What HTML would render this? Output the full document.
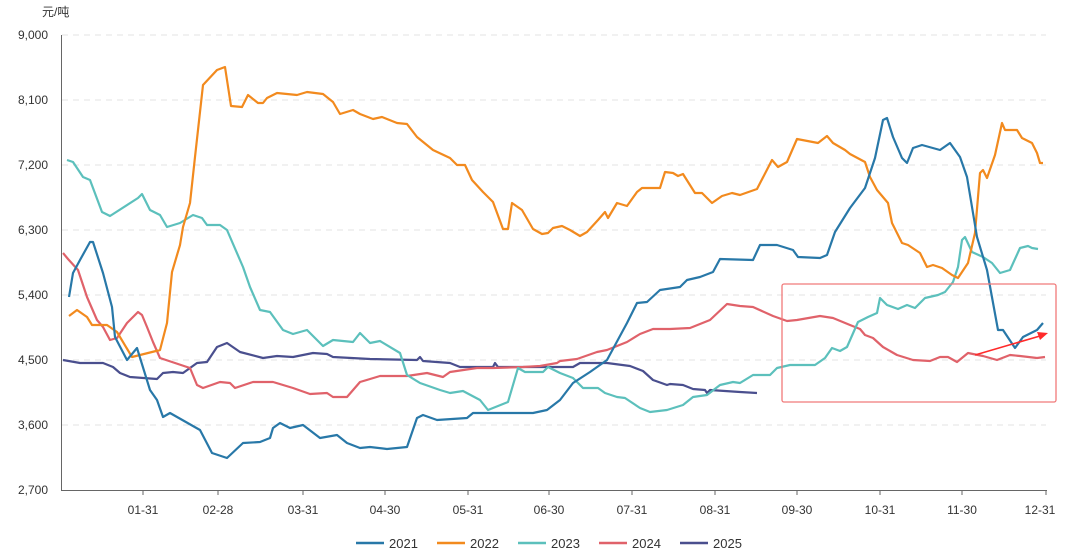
<!DOCTYPE html>
<html><head><meta charset="utf-8"><style>
html,body{margin:0;padding:0;background:#fff;}
svg{display:block;font-family:"Liberation Sans","Noto Sans CJK SC",sans-serif;}
</style></head><body>
<svg width="1080" height="558" viewBox="0 0 1080 558">
<g stroke="#e3e3e3" stroke-dasharray="6,5" stroke-width="1">
<line x1="62" y1="35" x2="1046" y2="35"/><line x1="62" y1="100" x2="1046" y2="100"/><line x1="62" y1="165" x2="1046" y2="165"/><line x1="62" y1="230" x2="1046" y2="230"/><line x1="62" y1="295" x2="1046" y2="295"/><line x1="62" y1="360" x2="1046" y2="360"/><line x1="62" y1="425" x2="1046" y2="425"/>
</g>
<g font-size="12" fill="#333" text-anchor="end">
<text x="48" y="39">9,000</text><text x="48" y="104">8,100</text><text x="48" y="169">7,200</text><text x="48" y="234">6,300</text><text x="48" y="299">5,400</text><text x="48" y="364">4,500</text><text x="48" y="429">3,600</text><text x="48" y="494">2,700</text>
</g>
<text x="42" y="16" font-size="12" fill="#333">元/吨</text>
<line x1="61.5" y1="35" x2="61.5" y2="490" stroke="#666"/>
<line x1="61" y1="490.5" x2="1047" y2="490.5" stroke="#666"/>
<g stroke="#666">
<line x1="143" y1="490" x2="143" y2="495"/><line x1="218" y1="490" x2="218" y2="495"/><line x1="303" y1="490" x2="303" y2="495"/><line x1="385" y1="490" x2="385" y2="495"/><line x1="468" y1="490" x2="468" y2="495"/><line x1="549" y1="490" x2="549" y2="495"/><line x1="632" y1="490" x2="632" y2="495"/><line x1="715" y1="490" x2="715" y2="495"/><line x1="797" y1="490" x2="797" y2="495"/><line x1="880" y1="490" x2="880" y2="495"/><line x1="962" y1="490" x2="962" y2="495"/><line x1="1046" y1="490" x2="1046" y2="495"/>
</g>
<g font-size="12" fill="#333" text-anchor="middle">
<text x="143" y="514">01-31</text><text x="218" y="514">02-28</text><text x="303" y="514">03-31</text><text x="385" y="514">04-30</text><text x="468" y="514">05-31</text><text x="549" y="514">06-30</text><text x="632" y="514">07-31</text><text x="715" y="514">08-31</text><text x="797" y="514">09-30</text><text x="880" y="514">10-31</text><text x="962" y="514">11-30</text><text x="1040" y="514">12-31</text>
</g>
<g fill="none" stroke-width="2.2" stroke-linejoin="round">
<polyline stroke="#4a4f8e" points="63,360 80,363 103,363 113,367 120,373 130,377 157,379 163,373 173,372 183,373 197,363 207,362 217,347 227,343 240,352 263,358 277,356 293,357 313,353 327,354 333,357 370,359 417,360 420,357 423,361 450,363 460,367 493,367 495,363 498,367 540,367 573,367 580,363 607,363 630,366 643,371 653,380 667,385 670,384 683,385 693,389 705,390 707,393 710,390 740,392 757,393"/>
<polyline stroke="#e0626a" points="63,253 68,259 78,270 87,297 97,320 103,327 110,340 117,338 127,323 138,312 142,315 147,327 153,342 160,358 175,363 190,368 197,385 203,388 220,382 230,383 235,388 253,382 273,382 293,388 310,394 327,393 333,397 347,397 360,382 380,376 407,376 427,373 443,377 450,372 477,368 493,368 523,367 540,366 557,363 560,361 577,359 597,352 607,350 627,342 640,334 653,329 670,329 690,328 710,320 727,304 740,306 753,307 773,316 787,321 797,320 820,316 833,318 850,325 860,329 865,335 873,338 883,347 897,355 913,360 930,361 940,357 948,357 957,362 968,353 983,356 997,360 1010,355 1020,356 1037,358 1045,357"/>
<polyline stroke="#5cc0bc" points="67,160 73,162 83,177 90,180 102,212 110,216 138,198 142,194 150,210 160,215 167,227 180,223 193,215 202,218 207,225 220,225 227,230 243,267 250,287 260,310 270,312 283,330 293,334 307,330 323,346 333,340 353,342 360,333 370,343 380,341 400,353 407,375 420,383 440,390 450,393 463,391 480,400 488,410 508,402 518,368 525,372 543,372 548,367 550,368 560,373 573,378 583,388 598,388 605,393 617,397 625,398 640,408 650,412 667,410 683,405 693,397 707,395 720,385 733,382 740,383 753,375 770,375 777,368 790,365 815,365 825,358 832,348 840,351 847,347 858,322 868,317 877,313 880,298 887,305 898,309 907,305 915,308 925,298 938,295 945,292 953,282 958,267 962,240 965,237 972,252 983,257 992,263 1000,273 1010,270 1020,248 1028,246 1032,248 1038,249"/>
<polyline stroke="#f28a1e" points="69,316 77,310 87,317 92,325 107,325 117,332 132,357 160,350 167,323 172,272 180,245 183,227 190,203 195,157 203,85 217,70 225,67 231,106 242,107 248,95 258,103 263,103 267,98 277,93 297,95 307,92 323,94 333,102 340,114 353,110 360,114 373,119 382,117 397,123 407,124 417,137 433,150 450,158 457,165 465,165 472,180 483,192 493,202 503,229 508,229 512,203 522,210 533,229 542,234 548,233 553,228 562,226 570,230 580,236 587,232 598,220 605,212 608,218 617,203 627,206 637,192 642,188 660,188 665,172 673,173 678,176 683,174 695,193 702,193 712,203 722,196 732,193 740,195 757,189 772,160 778,167 787,162 797,139 818,143 827,136 833,143 845,150 850,154 865,162 870,177 877,190 888,203 892,223 902,243 908,245 920,253 927,267 933,265 942,268 952,275 958,278 968,263 975,233 980,173 983,170 987,178 995,155 1002,123 1005,130 1017,130 1022,138 1032,143 1037,153 1040,163 1043,163"/>
<polyline stroke="#2878a8" points="69,297 73,273 80,260 90,242 93,242 103,273 112,307 115,337 127,360 137,348 150,390 157,400 163,417 170,413 200,430 212,453 227,458 243,443 260,442 270,438 273,428 280,423 290,428 303,425 320,438 337,435 347,443 360,448 370,447 387,449 407,447 417,418 423,415 437,420 467,418 473,413 510,413 533,413 547,410 560,400 573,383 590,372 607,360 627,323 637,303 647,302 660,290 680,287 687,280 700,277 713,272 720,259 753,260 760,245 777,245 793,250 798,257 820,258 827,255 835,232 850,208 865,188 875,158 883,120 887,118 893,137 902,158 907,163 913,148 922,145 940,150 950,143 960,157 967,177 977,237 987,270 998,330 1003,330 1015,348 1023,337 1037,330 1043,323"/>
</g>
<rect x="782" y="284" width="274" height="118" rx="2" fill="none" stroke="#f07a7a" stroke-width="1.3"/>
<line x1="975" y1="355" x2="1040" y2="336" stroke="#ff2a2a" stroke-width="1.6"/>
<polygon points="1048,333 1037,332 1040,340" fill="#ff2a2a"/>
<g font-size="13" fill="#333">
<line x1="356" y1="543" x2="384" y2="543" stroke="#2878a8" stroke-width="2.5"/><text x="389" y="548">2021</text>
<line x1="437" y1="543" x2="465" y2="543" stroke="#f28a1e" stroke-width="2.5"/><text x="470" y="548">2022</text>
<line x1="518" y1="543" x2="546" y2="543" stroke="#5cc0bc" stroke-width="2.5"/><text x="551" y="548">2023</text>
<line x1="599" y1="543" x2="627" y2="543" stroke="#e0626a" stroke-width="2.5"/><text x="632" y="548">2024</text>
<line x1="680" y1="543" x2="708" y2="543" stroke="#4a4f8e" stroke-width="2.5"/><text x="713" y="548">2025</text>
</g>
</svg>
</body></html>
